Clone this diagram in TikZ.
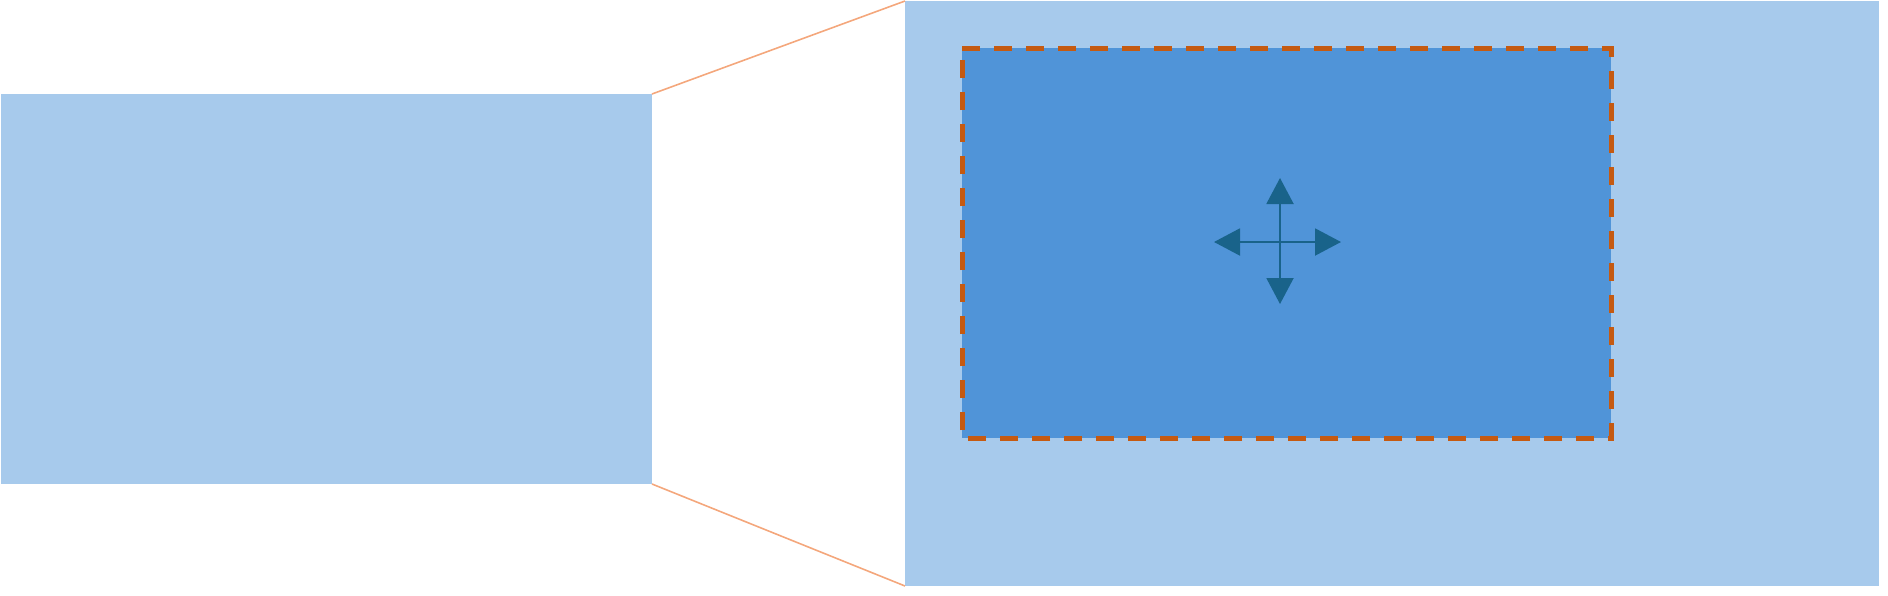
\documentclass[tikz,border=0pt]{standalone}
\usetikzlibrary{arrows.meta}
\definecolor{lightblue}{HTML}{A7CAEC}
\definecolor{midblue}{HTML}{5094D8}
\definecolor{dashorange}{HTML}{C55A11}
\definecolor{lineorange}{HTML}{F4A77C}
\definecolor{arrowblue}{HTML}{19638A}
\begin{document}
\begin{tikzpicture}[x=1pt,y=-1pt,
  panel/.style={fill=lightblue, draw=none, inner sep=0pt, outer sep=0pt, anchor=north west},
  innerbox/.style={fill=midblue, draw=none, inner sep=0pt, outer sep=0pt, anchor=north west},
  dashframe/.style={draw=dashorange, line width=5pt, dash pattern=on 18pt off 14pt},
  zoomline/.style={draw=lineorange, line width=1.6pt},
  moveline/.style={draw=arrowblue, line width=2pt, {Triangle[length=26pt,width=27pt]}-{Triangle[length=26pt,width=27pt]}}]
\useasboundingbox (0,0) rectangle (1888,595);
\node[panel, minimum width=651pt, minimum height=390pt] (small) at (1,94) {};
\node[panel, minimum width=974pt, minimum height=585pt] (big) at (905,1) {};
\node[innerbox, minimum width=649pt, minimum height=390pt] (sel) at (962,48) {};
\draw[dashframe] (sel.north west) -- (sel.north east) -- (sel.south east) -- (sel.south west) -- cycle;
\draw[zoomline] (small.north east) -- (big.north west);
\draw[zoomline] (small.south east) -- (big.south west);
\coordinate (c) at (1280,242);
\coordinate (up) at (1280,178);
\coordinate (down) at (1280,304);
\coordinate (left) at (1214,242);
\coordinate (right) at (1341,242);
\draw[moveline] (up) -- (down);
\draw[moveline] (left) -- (right);
\end{tikzpicture}
\end{document}
